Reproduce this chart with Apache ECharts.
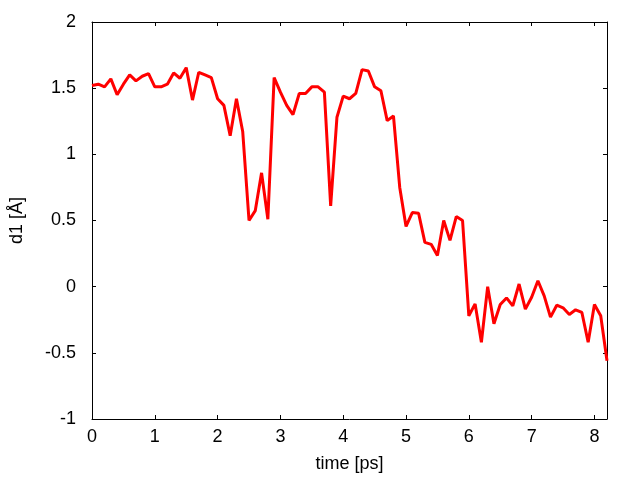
<!DOCTYPE html>
<html>
<head>
<meta charset="utf-8">
<script src="https://cdn.jsdelivr.net/npm/echarts@6/dist/echarts.min.js"></script>
<style>html,body{margin:0;padding:0;background:#fff}#c{width:640px;height:480px}</style>
</head>
<body>
<div id="c"></div>
<script>
const timePs = [0.0,0.1,0.2,0.3,0.4,0.5,0.6,0.7,0.8,0.9,1.0,1.1,1.2,1.3,1.4,1.5,1.6,1.7,1.8,1.9,
  2.0,2.1,2.2,2.3,2.4,2.5,2.6,2.7,2.8,2.9,3.0,3.1,3.2,3.3,3.4,3.5,3.6,3.7,3.8,3.9,
  4.0,4.1,4.2,4.3,4.4,4.5,4.6,4.7,4.8,4.9,5.0,5.1,5.2,5.3,5.4,5.5,5.6,5.7,5.8,5.9,
  6.0,6.1,6.2,6.3,6.4,6.5,6.6,6.7,6.8,6.9,7.0,7.1,7.2,7.3,7.4,7.5,7.6,7.7,7.8,7.9,
  8.0,8.1,8.2];
const d1 = [1.52,1.53,1.51,1.57,1.45,1.53,1.60,1.555,1.59,1.61,1.51,1.51,1.53,1.615,1.575,1.655,1.41,1.62,1.60,1.58,
  1.42,1.37,1.14,1.42,1.17,0.50,0.575,0.86,0.51,1.58,1.47,1.37,1.30,1.46,1.46,1.51,1.51,1.47,0.61,1.28,
  1.44,1.42,1.46,1.64,1.63,1.51,1.48,1.255,1.29,0.75,0.455,0.56,0.555,0.335,0.32,0.235,0.50,0.35,0.53,0.50,
  -0.22,-0.13,-0.42,0.0,-0.28,-0.135,-0.085,-0.145,0.02,-0.17,-0.08,0.045,-0.07,-0.23,-0.14,-0.16,-0.21,-0.175,-0.195,-0.42,
  -0.135,-0.22,-0.56];
const xTicks = [0,1,2,3,4,5,6,7,8];
const yTicks = [-1,-0.5,0,0.5,1,1.5,2];
const xLabel = 'time [ps]';
const yLabel = 'd1 [Å]';

const font = 'Liberation Sans';
const lineStyle = {color:'#000', width:1};
const chart = echarts.init(document.getElementById('c'), null, {renderer:'canvas'});
const xCommon = {type:'value', min:0, max:8.2, interval:1, splitLine:{show:false},
  axisLine:{onZero:false, lineStyle}, axisTick:{inside:true, length:4, lineStyle}};
const yCommon = {type:'value', min:-1, max:2, interval:0.5, splitLine:{show:false},
  axisLine:{onZero:false, lineStyle}, axisTick:{inside:true, length:4, lineStyle}};
chart.setOption({
  animation:false,
  backgroundColor:'#fff',
  grid:{left:90, right:33, top:22, bottom:61, containLabel:false},
  xAxis:[
    Object.assign({}, xCommon, {position:'bottom', name:xLabel, nameLocation:'middle', nameGap:36,
      nameTextStyle:{fontFamily:font, fontSize:18, color:'#000'},
      axisLabel:{fontFamily:font, fontSize:18, color:'#000', margin:9, showMaxLabel:false,
        formatter:v => xTicks.includes(Math.round(v*1000)/1000) ? String(v) : ''}}),
    Object.assign({}, xCommon, {position:'top', axisLabel:{show:false}})
  ],
  yAxis:[
    Object.assign({}, yCommon, {position:'left', name:yLabel, nameLocation:'middle', nameGap:66, nameRotate:90,
      nameTextStyle:{fontFamily:font, fontSize:18, color:'#000'},
      axisLabel:{fontFamily:font, fontSize:18, color:'#000', margin:16,
        formatter:v => yTicks.includes(v) ? String(v) : ''}}),
    Object.assign({}, yCommon, {position:'right', axisLabel:{show:false}})
  ],
  series:[{
    type:'line', xAxisIndex:0, yAxisIndex:0, showSymbol:false, symbol:'none',
    data: timePs.map((t,i)=>[t,d1[i]]),
    lineStyle:{color:'#ff0000', width:3}, itemStyle:{color:'#ff0000'}
  }]
});
</script>
</body>
</html>
